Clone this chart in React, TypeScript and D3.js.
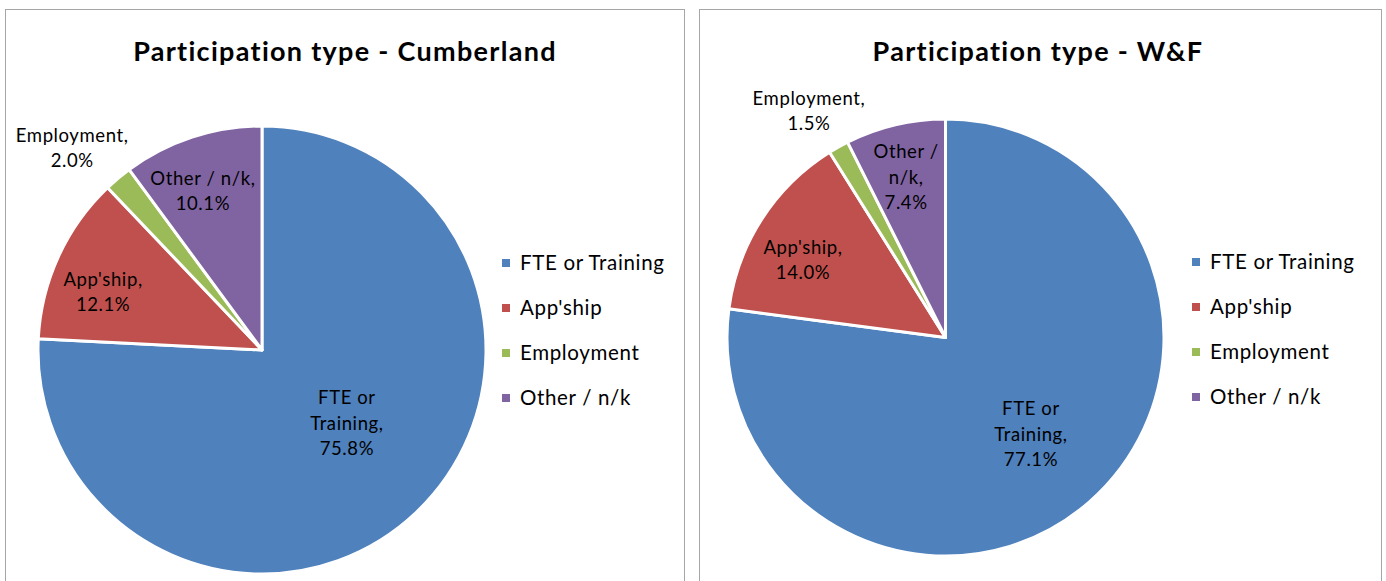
import React from "react";
import * as d3 from "d3";

const categories = ["FTE or Training", "App'ship", "Employment", "Other / n/k"];
const cumberlandValues = [75.8, 12.1, 2.0, 10.1];
const wfValues = [77.1, 14.0, 1.5, 7.4];
const cumberlandLabels = [["FTE or", "Training,", "75.8%"], ["App'ship,", "12.1%"], ["Employment,", "2.0%"], ["Other / n/k,", "10.1%"]];
const wfLabels = [["FTE or", "Training,", "77.1%"], ["App'ship,", "14.0%"], ["Employment,", "1.5%"], ["Other /", "n/k,", "7.4%"]];
const titles = ["Participation type - Cumberland", "Participation type - W&F"];

const colors = ["#4F81BD", "#C0504D", "#9BBB59", "#8064A2"];
const FONT = "Lato, 'Open Sans', sans-serif";

type PanelProps = {
  x0: number; x1: number; title: string; titleX: number;
  values: number[]; labels: string[][];
  cx: number; cy: number; r: number;
  labelPolar: [number, number][];
  legendX: number; legendY: number;
};

function Panel(p: PanelProps) {
  const pie = d3.pie<number>().sort(null).value((d) => d);
  const arcs = pie(p.values);
  const arc = d3.arc<d3.PieArcDatum<number>>().innerRadius(0).outerRadius(p.r);
  const legendScale = d3.scalePoint<string>().domain(categories).range([p.legendY, p.legendY + 135]);
  return (
    <g>
      <rect x={p.x0 + 0.5} y={9.5} width={p.x1 - p.x0} height={600} fill="#fff" stroke="#a6a6a6" strokeWidth={1} />
      <text x={p.titleX} y={61} textAnchor="middle" fontFamily={FONT} fontWeight={700} fontSize={27} letterSpacing={1.3} fill="#000">{p.title}</text>
      <g transform={`translate(${p.cx},${p.cy})`}>
        {arcs.map((a, i) => (
          <path key={i} d={arc(a) || ""} fill={colors[i]} stroke="#fff" strokeWidth={3} strokeLinejoin="round" />
        ))}
        {arcs.map((a, i) => {
          const [k, deg] = p.labelPolar[i];
          const ang = (deg * Math.PI) / 180;
          const lx = k * p.r * Math.sin(ang);
          const ly = -k * p.r * Math.cos(ang);
          const lines = p.labels[i];
          const lh = 25.5;
          const top = ly - ((lines.length - 1) * lh) / 2;
          return (
            <text key={"l" + i} textAnchor="middle" fontFamily={FONT} fontSize={18.5} letterSpacing={0.6} fill="#000">
              {lines.map((s, j) => (
                <tspan key={j} x={lx} y={top + j * lh} dy="0.35em">{s}</tspan>
              ))}
            </text>
          );
        })}
      </g>
      {categories.map((c, i) => {
        const y = legendScale(c) as number;
        return (
          <g key={c}>
            <rect x={p.legendX} y={y - 4} width={8} height={8} fill={colors[i]} />
            <text x={p.legendX + 18} y={y} dy="0.36em" fontFamily={FONT} fontSize={20.5} letterSpacing={0.65} fill="#000">{c}</text>
          </g>
        );
      })}
    </g>
  );
}

export default function App() {
  return (
    <svg width={1386} height={581} style={{ position: "absolute", left: 0, top: 0, background: "#fff" }}>
      <rect x={0} y={0} width={1386} height={581} fill="#fff" />
      <Panel x0={5} x1={684} title={titles[0]} titleX={345} values={cumberlandValues} labels={cumberlandLabels}
        cx={262} cy={350} r={224}
        labelPolar={[[0.5, 130.7], [0.755, 290], [1.237, 316.75], [0.757, 339.6]]}
        legendX={502} legendY={263} />
      <Panel x0={699} x1={1381} title={titles[1]} titleX={1038} values={wfValues} labels={wfLabels}
        cx={945.5} cy={337.5} r={218.5}
        labelPolar={[[0.59, 138.5], [0.742, 298.5], [1.21, 328.9], [0.756, 346.2]]}
        legendX={1192} legendY={262} />
    </svg>
  );
}
